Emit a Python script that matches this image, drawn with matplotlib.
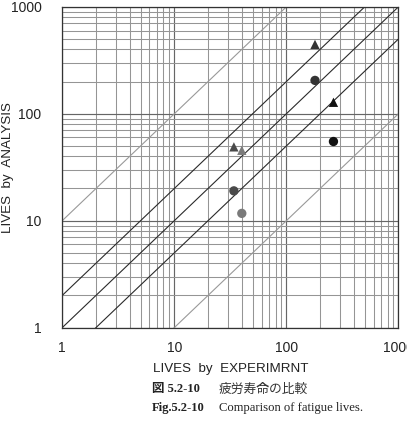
import matplotlib.pyplot as plt
import numpy as np

exp_lives = [180, 180, 263, 263, 34, 34, 40, 40]
ana_lives = [445, 205, 128, 55, 49, 19, 45.5, 11.7]
markers = ['^', 'o', '^', 'o', '^', 'o', '^', 'o']
colors = ['#333333', '#333333', '#111111', '#111111',
          '#4a4a4a', '#4a4a4a', '#7a7a7a', '#7a7a7a']

ratios_dark = [2, 1, 0.5]
ratios_light = [10, 0.1]
ticks = [1, 10, 100, 1000]

sans = ['Liberation Sans Narrow', 'Liberation Sans', 'DejaVu Sans']

fig = plt.figure(figsize=(4.07, 4.26), dpi=100)
ax = fig.add_axes([0.153, 0.231, 0.826, 0.753])
ax.set_xscale('log')
ax.set_yscale('log')
ax.set_xlim(1, 1000)
ax.set_ylim(1, 1000)

ax.grid(True, which='major', color='#666666', lw=0.85)
ax.grid(True, which='minor', color='#959595', lw=0.75)
ax.set_axisbelow(True)

xx = np.array([1, 1000])
for r in ratios_dark:
    ax.plot(xx, xx * r, color='#2a2a2a', lw=0.8)
for r in ratios_light:
    ax.plot(xx, xx * r, color='#999999', lw=0.8)

for x, y, m, c in zip(exp_lives, ana_lives, markers, colors):
    ax.scatter(x, y, marker=m, s=45, color=c, zorder=3, edgecolors='none')

ax.set_xticks(ticks)
ax.set_yticks(ticks)
ax.set_xticklabels([str(t) for t in ticks], family=sans, fontsize=10)
ax.set_yticklabels([str(t) for t in ticks], family=sans, fontsize=10)
ax.tick_params(which='both', length=0, colors='#222222')
ax.tick_params(axis='x', pad=10)
ax.tick_params(axis='y', pad=15)
for s in ax.spines.values():
    s.set_color('#333333')
    s.set_linewidth(0.9)

ax.set_xlabel('LIVES  by  EXPERIMRNT', fontsize=9.6, family=sans,
              color='#222222', va='center')
ax.xaxis.set_label_coords(0.5, -0.128)
ax.set_ylabel('LIVES  by  ANALYSIS', fontsize=9.6, family=sans,
              color='#222222', va='center')
ax.yaxis.set_label_coords(-0.162, 0.5)

cap_y1 = 1 - 389 / 426
cap_y2 = 1 - 408 / 426
fig.text(0.373, cap_y1, '図 5.2-10', fontsize=9, fontweight='bold',
         family=['Liberation Serif', 'Noto Sans CJK JP'], color='#222222', va='center')
fig.text(0.536, cap_y1, '疲労寿命の比較', fontsize=9.2,
         family=['Noto Sans CJK JP'], color='#333333', va='center')
fig.text(0.373, cap_y2, 'Fig.5.2-10', fontsize=9, fontweight='bold',
         family=['Liberation Serif'], color='#222222', va='center')
fig.text(0.538, cap_y2, 'Comparison of fatigue lives.', fontsize=9.1,
         family=['Liberation Serif'], color='#222222', va='center')

fig.savefig('out.png', dpi=100)
